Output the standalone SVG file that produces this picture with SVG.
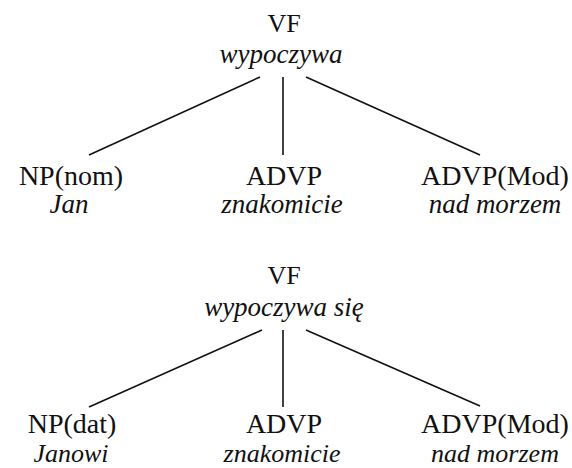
<svg xmlns="http://www.w3.org/2000/svg" width="572" height="468" viewBox="0 0 572 468">
<style>
text{font-family:'Liberation Serif','Times New Roman',serif;fill:#111;text-anchor:middle}
.c{font-size:28px}
.r{font-size:26px}
.w{font-size:27px;font-style:italic}
.s{font-size:26px}
.e{stroke:#111;stroke-width:1.6;fill:none}
</style>
<rect width="572" height="468" fill="#fff"/>
<g id="edges">
<line class="e" x1="260" y1="77" x2="89" y2="155"/>
<line class="e" x1="283" y1="77" x2="283" y2="155"/>
<line class="e" x1="306" y1="77" x2="480" y2="155"/>
<line class="e" x1="262" y1="330" x2="89" y2="407"/>
<line class="e" x1="283" y1="330" x2="283" y2="407"/>
<line class="e" x1="306" y1="330" x2="480" y2="406"/>
</g>
<g id="vf1"><text class="r" x="284" y="32">VF</text><text class="w" x="281" y="63">wypoczywa</text></g>
<g id="np1"><text class="c" x="71" y="185">NP(nom)</text><text class="w" x="69" y="213">Jan</text></g>
<g id="advp1"><text class="c" x="284" y="185">ADVP</text><text class="w" x="282" y="213">znakomicie</text></g>
<g id="mod1"><text class="c" x="495" y="185">ADVP(Mod)</text><text class="w" x="495" y="213">nad morzem</text></g>
<g id="vf2"><text class="r" x="284" y="284">VF</text><text class="w" x="284" y="316">wypoczywa się</text></g>
<g id="np2"><text class="c" x="72" y="433">NP(dat)</text><text class="w s" x="71" y="462">Janowi</text></g>
<g id="advp2"><text class="c" x="284" y="433">ADVP</text><text class="w s" x="282" y="462">znakomicie</text></g>
<g id="mod2"><text class="c" x="495" y="433">ADVP(Mod)</text><text class="w s" x="495" y="462">nad morzem</text></g>
</svg>
